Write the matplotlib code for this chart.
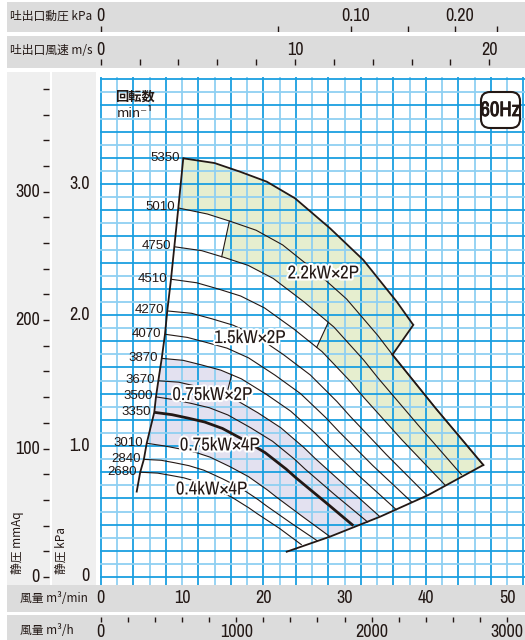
import numpy as np
import matplotlib
matplotlib.use('Agg')
import matplotlib.pyplot as plt
from matplotlib import font_manager
from matplotlib.patches import Rectangle, Polygon, FancyBboxPatch
import matplotlib.patheffects as pe

# fan curves: flow (m3/min) vs static pressure (kPa)
speeds = [5350, 5010, 4750, 4510, 4270, 4070, 3870, 3670, 3500, 3350, 3010, 2840, 2680]

q5350 = [10.15, 14.0, 17.13, 20.42, 23.90, 28.21, 32.31, 36.42, 38.46]
p5350 = [3.196, 3.16, 3.094, 3.018, 2.891, 2.662, 2.420, 2.102, 1.924]
q5010 = [9.54, 13.11, 16.04, 19.12, 22.38, 26.42, 30.25, 34.10, 36.01, 41.20, 47.08]
p5010 = [2.817, 2.771, 2.713, 2.647, 2.535, 2.334, 2.122, 1.843, 1.688, 1.289, 0.855]
q4750 = [9.05, 12.43, 15.21, 18.13, 21.22, 25.05, 28.69, 32.34, 34.15, 39.07, 44.42]
p4750 = [2.521, 2.491, 2.439, 2.379, 2.279, 2.098, 1.908, 1.657, 1.517, 1.159, 0.779]
q4510 = [8.64, 11.80, 14.44, 17.21, 20.15, 23.78, 27.24, 30.70, 32.42, 37.09, 42.4]
p4510 = [2.273, 2.246, 2.199, 2.145, 2.054, 1.892, 1.720, 1.494, 1.367, 1.045, 0.70]
q4270 = [8.18, 11.17, 13.67, 16.30, 19.07, 22.51, 25.79, 29.07, 30.70, 35.12, 40.2]
p4270 = [2.031, 2.013, 1.971, 1.922, 1.842, 1.696, 1.542, 1.339, 1.226, 0.936, 0.62]
q4070 = [7.90, 10.65, 13.03, 15.53, 18.18, 21.46, 24.58, 27.70, 29.26, 33.47, 38.3]
p4070 = [1.853, 1.829, 1.790, 1.747, 1.673, 1.540, 1.400, 1.216, 1.113, 0.851, 0.57]
q3870 = [7.50, 10.13, 12.39, 14.77, 17.29, 20.41, 23.37, 26.35, 27.82, 31.83, 36.42]
p3870 = [1.669, 1.654, 1.619, 1.579, 1.513, 1.393, 1.266, 1.100, 1.007, 0.769, 0.511]
q3670 = [7.08, 9.60, 11.75, 14.01, 16.40, 19.35, 22.16, 24.98, 26.38, 30.18, 34.36]
p3670 = [1.498, 1.487, 1.456, 1.420, 1.360, 1.253, 1.139, 0.989, 0.905, 0.692, 0.460]
q3500 = [6.79, 9.16, 11.21, 13.36, 15.64, 18.45, 21.14, 23.83, 25.16, 28.78, 32.9]
p3500 = [1.375, 1.352, 1.324, 1.292, 1.237, 1.139, 1.036, 0.900, 0.823, 0.629, 0.417]
q3350 = [6.58, 8.77, 10.73, 12.79, 14.97, 17.67, 20.23, 22.81, 24.08, 27.55, 31.08]
p3350 = [1.257, 1.239, 1.213, 1.183, 1.134, 1.044, 0.949, 0.824, 0.754, 0.576, 0.392]
q3010 = [5.65, 7.88, 9.64, 11.49, 13.45, 15.87, 18.18, 20.49, 21.64, 24.75, 28.21]
p3010 = [1.021, 1.000, 0.979, 0.955, 0.915, 0.843, 0.766, 0.665, 0.609, 0.465, 0.308]
q2840 = [5.30, 7.43, 9.09, 10.84, 12.69, 14.97, 17.15, 19.33, 20.41, 23.36, 26.65]
p2840 = [0.898, 0.891, 0.872, 0.850, 0.815, 0.750, 0.682, 0.592, 0.542, 0.414, 0.276]
q2680 = [4.85, 7.01, 8.58, 10.23, 11.97, 14.13, 16.18, 18.24, 19.26, 22.04, 24.73]
p2680 = [0.800, 0.793, 0.776, 0.757, 0.725, 0.668, 0.607, 0.527, 0.483, 0.369, 0.245]

curves = {
    5350: (q5350, p5350), 5010: (q5010, p5010), 4750: (q4750, p4750),
    4510: (q4510, p4510), 4270: (q4270, p4270), 4070: (q4070, p4070),
    3870: (q3870, p3870), 3670: (q3670, p3670), 3500: (q3500, p3500),
    3350: (q3350, p3350), 3010: (q3010, p3010), 2840: (q2840, p2840),
    2680: (q2680, p2680),
}

# surge side boundary and lower limit line
q_left = [10.15, 9.54, 9.05, 8.64, 8.18, 7.90, 7.50, 7.08, 6.79, 6.58, 5.65, 5.30, 4.85, 4.42]
p_left = [3.196, 2.817, 2.521, 2.273, 2.031, 1.853, 1.669, 1.498, 1.375, 1.257, 1.021, 0.898, 0.800, 0.652]
q_bottom = [22.88, 28.21, 34.36, 40.31, 47.08]
p_bottom = [0.193, 0.308, 0.460, 0.626, 0.855]

# motor power limit steps (flow where the limit crosses a curve)
q_kink = [38.46, 35.9]
p_kink = [1.924, 1.697]
q_step_a = [15.82, 14.88]
p_step_a = [2.716, 2.445]
q_step_b = [28.0, 26.57]
p_step_b = [1.944, 1.753]
q_step_c = [16.11, 15.45]
p_step_c = [1.544, 1.385]

motor_labels = ['2.2kW×2P', '1.5kW×2P', '0.75kW×2P', '0.75kW×4P', '0.4kW×4P']

# ---------------------------------------------------------------
W, H = 525, 640
X0, SX = 100.8, 8.125    # px of flow 0, px per m3/min
Y0, SY = 577.0, 131.0    # px of 0 kPa, px per kPa
QMIN, QMAX = -0.15, 52.2
PMIN, PMAX = -0.06, 3.82

INK = '#231815'
DARK = '#1a9fe0'
LIGHT = '#8fd0f2'
SANS = ['Liberation Sans', 'DejaVu Sans']
JP = ['Noto Sans CJK JP', 'DejaVu Sans']


def narrow_font():
    # the chart uses a condensed gothic; take a condensed face if one is installed
    for f in font_manager.fontManager.ttflist:
        name = f.name.lower()
        if ('condensed' in name or 'narrow' in name) and 'mono' not in name and 'serif' not in name:
            return dict(family=f.name, stretch=f.stretch)
    for f in font_manager.fontManager.ttflist:
        if 'condensed' in str(f.stretch) and f.name in ('Roboto', 'Open Sans', 'Noto Sans', 'DejaVu Sans'):
            return dict(family=f.name, stretch=f.stretch)
    return dict(family='Roboto', stretch='normal')


NARROW = narrow_font()


def fx(px):
    return px / W


def fy(py):
    return 1 - py / H


def piece(q, p, q0, q1):
    q = np.asarray(q, float)
    p = np.asarray(p, float)
    lo, hi = min(q0, q1), max(q0, q1)
    mid = q[(q > lo) & (q < hi)]
    qs = np.concatenate([[lo], mid, [hi]])
    ps = np.interp(qs, q, p)
    if q0 > q1:
        qs, ps = qs[::-1], ps[::-1]
    return list(zip(qs, ps))


fig = plt.figure(figsize=(W / 100, H / 100), dpi=100)

left_px = X0 + QMIN * SX
right_px = X0 + QMAX * SX
top_py = Y0 - PMAX * SY
bot_py = Y0 - PMIN * SY


def band(x0, y0, x1, y1, color):
    fig.add_artist(Rectangle((fx(x0), fy(y1)), (x1 - x0) / W, (y1 - y0) / H,
                             transform=fig.transFigure, fc=color, ec='none', zorder=0))


band(7, 2, 525, 32, '#dcdcdc')
band(7, 36, 525, 68, '#dcdcdc')
band(7, 72, 49.5, 585, '#efefef')
band(52, 72, 96, 585, '#efefef')
band(7, 585, 525, 612, '#dcdcdc')
band(7, 615, 525, 640, '#dcdcdc')

# ---- main chart ----
ax = fig.add_axes([fx(left_px), fy(bot_py), (right_px - left_px) / W, (bot_py - top_py) / H])
ax.set_xlim(QMIN, QMAX)
ax.set_ylim(PMIN, PMAX)
ax.axis('off')

for q in np.arange(0, 53, 2):
    ax.axvline(q, color=DARK if q % 4 == 0 else LIGHT, lw=1.3, zorder=2)
for i in range(39):
    ax.axhline(i / 10, color=DARK if i % 2 == 0 else LIGHT, lw=1.3, zorder=2)

# shaded motor zones
green = piece(q5350, p5350, q5350[0], q5350[-1])
green += piece(q5010, p5010, q_kink[1], q5010[-1])
green += piece(q_bottom, p_bottom, q5010[-1], q4510[-1])
green += piece(q4510, p4510, q4510[-1], q_step_b[1])
green += piece(q4750, p4750, q_step_b[0], q_step_a[1])
green += piece(q5010, p5010, q_step_a[0], q5010[0])
ax.add_patch(Polygon(green, closed=True, fc='#e6eecf', ec='none', zorder=1))

purple = piece(q3870, p3870, q3870[0], q_step_c[0])
purple += piece(q3670, p3670, q_step_c[1], q3670[-1])
purple += piece(q_bottom, p_bottom, q3670[-1], q3010[-1])
purple += piece(q3010, p3010, q3010[-1], q3010[0])
purple += [(q, p) for q, p in zip(q_left[::-1], p_left[::-1]) if 1.021 < p < 1.669]
ax.add_patch(Polygon(purple, closed=True, fc='#e3e1f0', ec='none', zorder=1))

for n in speeds:
    q, p = curves[n]
    lw = 2.0 if n == 3350 else (1.3 if n == 5350 else 0.8)
    ax.plot(q, p, color=INK, lw=lw, zorder=3, solid_capstyle='butt')
    ax.annotate(str(n), (q[0], p[0]), xytext=(-2.5, 0.5), textcoords='offset points',
                ha='right', va='center', fontsize=9.5, family=SANS, color=INK, zorder=5)

outer = piece(q5010, p5010, q_kink[1], q5010[-1])
ax.plot([a for a, b in outer], [b for a, b in outer], color=INK, lw=1.3, zorder=3)
ax.plot(q_kink, p_kink, color=INK, lw=1.3, zorder=3)
ax.plot(q_left, p_left, color=INK, lw=1.3, zorder=3)
ax.plot(q_bottom, p_bottom, color=INK, lw=1.3, zorder=3)
for qs, ps in [(q_step_a, p_step_a), (q_step_b, p_step_b), (q_step_c, p_step_c)]:
    ax.plot(qs, ps, color=INK, lw=0.8, zorder=3)

halo = [pe.withStroke(linewidth=3, foreground='white')]
for label, (q, p) in zip(motor_labels, [(27.4, 2.317), (18.36, 1.824), (13.75, 1.389),
                                        (14.67, 1.004), (13.65, 0.668)]):
    ax.text(q, p, label, fontsize=13.5, color=INK, ha='center', va='center',
            path_effects=halo, zorder=6, **NARROW)

ax.text(4.2, 3.664, '回転数', fontsize=9.5, family=JP, weight='bold', color=INK,
        ha='center', va='center', zorder=6)
ax.text(4.2, 3.535, 'min⁻¹', fontsize=9.5, family=JP, color=INK, ha='center', va='center', zorder=6)

# 60Hz badge
fig.add_artist(FancyBboxPatch((fx(481), fy(128)), 39 / W, 36 / H, transform=fig.transFigure,
                              boxstyle=f'round,pad=0,rounding_size={9 / W}', mutation_aspect=W / H,
                              fc='white', ec=INK, lw=1.5, zorder=6))
fig.text(fx(500.5), fy(110.5), '60Hz', fontsize=15, color=INK, ha='center', va='center', zorder=7,
         path_effects=[pe.withStroke(linewidth=0.6, foreground=INK)], **NARROW)


# ---- top strips ----
def strip(py_top, py_bot):
    a = fig.add_axes([fx(left_px), fy(py_bot), (right_px - left_px) / W, (py_bot - py_top) / H])
    a.set_xlim(QMIN, QMAX)
    a.set_ylim(py_bot, py_top)
    a.axis('off')
    return a


flow_per_ms = 2.39

ax_pd = strip(2, 32)
pd_ticks = [0, 0.05, 0.10, 0.15, 0.20, 0.25]
for pd in pd_ticks:
    q = flow_per_ms * np.sqrt(pd * 1000 / 0.6)
    ax_pd.vlines(q, 26, 32, color=INK, lw=1.0)
    if pd in (0, 0.10, 0.20):
        txt = '0' if pd == 0 else f'{pd:.2f}'
        ax_pd.text(q + (0.5 if pd else 0), 16, txt, fontsize=13, color=INK,
                   ha='center', va='center', **NARROW)
fig.text(fx(10), fy(16), '吐出口動圧 kPa', fontsize=8.5, family=JP, color=INK, va='center')

ax_v = strip(36, 68)
for v in range(0, 21, 2):
    ax_v.vlines(flow_per_ms * v, 59, 65, color=INK, lw=1.0)
    if v % 10 == 0:
        ax_v.text(flow_per_ms * v, 50, str(v), fontsize=13, color=INK,
                  ha='center', va='center', **NARROW)
fig.text(fx(10), fy(50), '吐出口風速 m/s', fontsize=8.5, family=JP, color=INK, va='center')

# ---- bottom strips ----
ax_q = strip(585, 612)
for q in range(0, 51, 10):
    ax_q.text(q, 598, str(q), fontsize=13, color=INK, ha='center', va='center', **NARROW)
fig.text(fx(20), fy(598), '風量 m³/min', fontsize=8.5, family=JP, color=INK, va='center')

ax_h = strip(615, 640)
for h in range(0, 3001, 200):
    ax_h.vlines(h / 60, 617, 622, color=INK, lw=1.0)
    if h % 1000 == 0:
        ax_h.text(h / 60, 632, str(h), fontsize=13, color=INK,
                  ha='center', va='center', clip_on=False, **NARROW)
fig.text(fx(20), fy(630), '風量 m³/h', fontsize=8.5, family=JP, color=INK, va='center')


# ---- left pressure columns ----
def column(px0, px1):
    a = fig.add_axes([fx(px0), fy(bot_py), (px1 - px0) / W, (bot_py - top_py) / H])
    a.set_xlim(px0, px1)
    a.set_ylim(PMIN, PMAX)
    a.axis('off')
    return a


ax_mm = column(7, 49.5)
for m in range(0, 381, 20):
    p = m * 0.00980665
    ax_mm.hlines(p, 42.5, 49, color=INK, lw=1.0)
    if m % 100 == 0:
        ax_mm.text(40, p, str(m), fontsize=13, color=INK, ha='right', va='center', **NARROW)
ax_mm.text(17, 0.02, '静圧 mmAq', fontsize=8.5, family=JP, color=INK, rotation=90,
           ha='center', va='bottom')

ax_kpa = column(52, 96)
for p in [1.0, 2.0, 3.0]:
    ax_kpa.text(90, p, f'{p:.1f}', fontsize=13, color=INK, ha='right', va='center', **NARROW)
ax_kpa.text(90, 0.01, '0', fontsize=13, color=INK, ha='right', va='center', **NARROW)
ax_kpa.text(61, 0.02, '静圧 kPa', fontsize=8.5, family=JP, color=INK, rotation=90,
            ha='center', va='bottom')

fig.savefig('out.png', dpi=100)
